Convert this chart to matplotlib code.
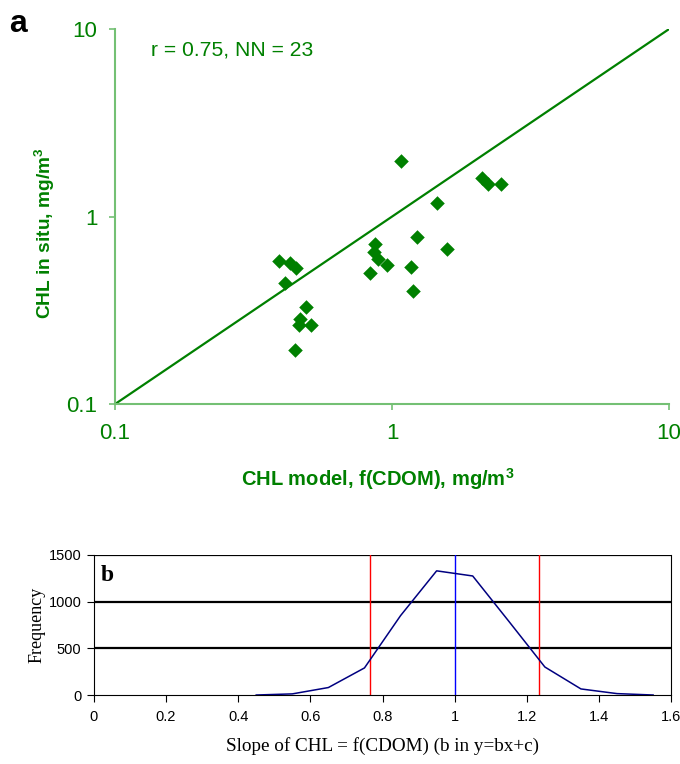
import matplotlib
matplotlib.use("Agg")
import matplotlib.pyplot as plt

plt.rcParams["font.family"] = ["Liberation Sans", "DejaVu Sans"]
plt.rcParams["mathtext.fontset"] = "custom"
plt.rcParams["mathtext.rm"] = "Liberation Sans"
plt.rcParams["mathtext.bf"] = "Liberation Sans:bold"

# panel a: CHL model vs in situ
chl_model = [1.08, 2.11, 2.22, 2.47, 1.45, 1.23, 1.58, 0.87, 0.86, 0.89, 0.96,
             1.17, 0.83, 1.19, 0.39, 0.43, 0.45, 0.41, 0.49, 0.465, 0.46, 0.51, 0.447]
chl_insitu = [1.97, 1.6, 1.5, 1.5, 1.18, 0.78, 0.67, 0.715, 0.65, 0.595, 0.55,
              0.54, 0.5, 0.40, 0.58, 0.565, 0.53, 0.44, 0.33, 0.285, 0.265, 0.265, 0.195]
one_to_one = [0.1, 10]

# panel b: slope frequency
slope = [0.45, 0.55, 0.65, 0.75, 0.85, 0.95, 1.05, 1.15, 1.25, 1.35, 1.45, 1.55]
freq = [0, 12, 80, 290, 850, 1330, 1275, 790, 300, 65, 15, 0]
ci_low, ci_high, slope_mean = 0.765, 1.235, 1.0

green = "#008000"
spine_green = "#74c074"

fig = plt.figure(figsize=(6.8, 7.64), dpi=100)

ax = fig.add_axes([0.169, 0.471, 0.815, 0.491])
ax.set_xscale("log")
ax.set_yscale("log")
ax.plot(one_to_one, one_to_one, color=green, lw=1.6, zorder=2)
ax.scatter(chl_model, chl_insitu, marker="D", s=55, color=green, zorder=3, linewidths=0)
ax.set_xlim(0.1, 10)
ax.set_ylim(0.1, 10)
ax.set_xticks([0.1, 1, 10])
ax.set_xticklabels(["0.1", "1", "10"])
ax.set_yticks([0.1, 1, 10])
ax.set_yticklabels(["0.1", "1", "10"])
ax.minorticks_off()
for s in ["top", "right"]:
    ax.spines[s].set_visible(False)
for s in ["left", "bottom"]:
    ax.spines[s].set_color(spine_green)
    ax.spines[s].set_linewidth(1.5)
ax.tick_params(colors=spine_green, labelcolor=green, labelsize=16, length=4.5, width=1.2)
ax.tick_params(axis="x", pad=9)
ax.tick_params(axis="y", pad=8)
ax.set_xlabel("CHL model, f(CDOM), mg/m$^\\mathbf{3}$", color=green, fontsize=14.5,
              fontweight="bold", labelpad=16)
ax.xaxis.label.set_x(0.475)
ax.set_ylabel("CHL in situ, mg/m$^\\mathbf{3}$", color=green, fontsize=13.8,
              fontweight="bold", labelpad=7)
ax.yaxis.label.set_y(0.455)
ax.text(0.065, 0.97, "r = 0.75, NN = 23", transform=ax.transAxes, color=green,
        fontsize=15.2, ha="left", va="top")
fig.text(0.013, 0.958, "a", fontsize=23, fontweight="bold", ha="left", va="baseline")

bx = fig.add_axes([0.138, 0.0903, 0.849, 0.1833])
for yv in [500, 1000, 1500]:
    bx.axhline(yv, color="black", lw=1.6, zorder=1)
bx.plot(slope, freq, color="#000080", lw=1.1, zorder=3)
bx.axvline(ci_low, color="red", lw=1.0, zorder=2)
bx.axvline(ci_high, color="red", lw=1.0, zorder=2)
bx.axvline(slope_mean, color="#0000ff", lw=1.0, zorder=2)
bx.set_xlim(0, 1.6)
bx.set_ylim(0, 1500)
bx.set_xticks([0, 0.2, 0.4, 0.6, 0.8, 1.0, 1.2, 1.4, 1.6])
bx.set_xticklabels(["0", "0.2", "0.4", "0.6", "0.8", "1", "1.2", "1.4", "1.6"])
bx.set_yticks([0, 500, 1000, 1500])
bx.spines["top"].set_visible(False)
for s in ["left", "right", "bottom"]:
    bx.spines[s].set_linewidth(0.8)
bx.tick_params(labelsize=10.5, length=5, width=0.8, pad=4)
bx.tick_params(axis="x", pad=6)
bx.set_xlabel("Slope of CHL = f(CDOM) (b in y=bx+c)", family="Liberation Serif",
              fontsize=13.8, labelpad=9)
bx.set_ylabel("Frequency", family="Liberation Serif", fontsize=13, labelpad=2)
bx.text(0.012, 0.85, "b", transform=bx.transAxes, family="Liberation Serif",
        fontsize=17, fontweight="bold", ha="left", va="center")

fig.savefig("out.png", dpi=100)
